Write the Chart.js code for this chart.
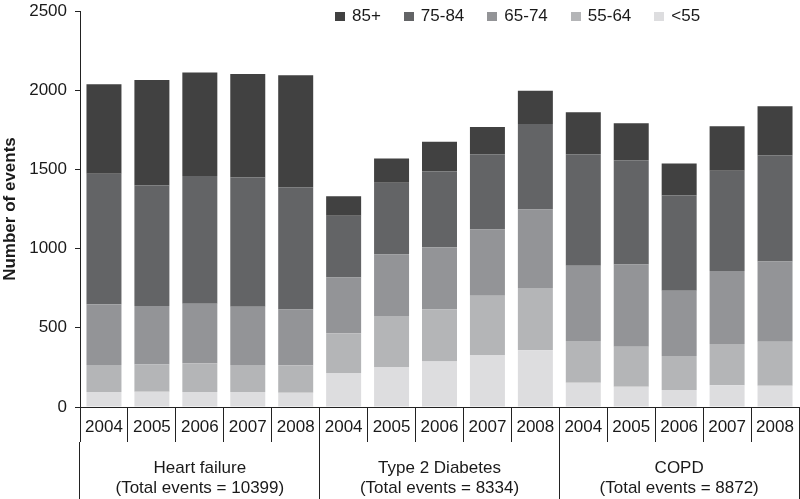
<!DOCTYPE html>
<html>
<head>
<meta charset="utf-8">
<script src="https://cdn.jsdelivr.net/npm/chart.js@4.4.0/dist/chart.umd.min.js"></script>
<style>
  body { margin: 0; background: #fff; }
  #wrap { position: relative; width: 800px; height: 499px; }
  #legend { position: absolute; left: 335px; top: 6px; display: flex; align-items: center;
            font: 17px "Liberation Sans", Arial, sans-serif; color: #1a1a1a; }
  #legend .item { display: flex; align-items: center; margin-right: 23px; }
  #legend .box { width: 10px; height: 9px; margin-right: 7px; }
</style>
</head>
<body>
<div id="wrap">
  <canvas id="bar-chart" width="800" height="499"></canvas>
  <div id="legend"></div>
</div>
<script>
// categories
const years = ['2004', '2005', '2006', '2007', '2008'];
const groups = [
  ['Heart failure', '(Total events = 10399)'],
  ['Type 2 Diabetes', '(Total events = 8334)'],
  ['COPD', '(Total events = 8872)']
];
const yearLabels = [].concat(years, years, years);

// series (heart failure x5, diabetes x5, copd x5)
const ageUnder55 = [95, 97, 95, 95, 90, 215, 252, 288, 328, 358, 153, 128, 107, 137, 134];
const age55to64  = [170, 172, 181, 170, 173, 250, 322, 328, 374, 393, 263, 252, 215, 261, 278];
const age65to74  = [383, 368, 376, 368, 353, 353, 389, 392, 419, 496, 476, 520, 412, 460, 507];
const age75to84  = [824, 762, 806, 816, 772, 389, 452, 479, 475, 539, 704, 657, 602, 633, 671];
const age85plus  = [566, 666, 654, 654, 707, 124, 154, 187, 171, 210, 265, 235, 202, 282, 309];

Chart.defaults.font.family = '"Liberation Sans", Arial, sans-serif';
Chart.defaults.color = '#1a1a1a';

const chart = new Chart(document.getElementById('bar-chart'), {
  type: 'bar',
  data: {
    labels: yearLabels,
    datasets: [
      { label: '<55',   data: ageUnder55, backgroundColor: '#dddddf' },
      { label: '55-64', data: age55to64,  backgroundColor: '#b4b5b7' },
      { label: '65-74', data: age65to74,  backgroundColor: '#939497' },
      { label: '75-84', data: age75to84,  backgroundColor: '#636466' },
      { label: '85+',   data: age85plus,  backgroundColor: '#414141' }
    ]
  },
  options: {
    responsive: false,
    animation: false,
    datasets: { bar: { categoryPercentage: 1, barPercentage: 0.73, borderWidth: 0 } },
    layout: { padding: { top: 0, right: 1 } },
    plugins: { legend: { display: false }, tooltip: { enabled: false } },
    scales: {
      x: {
        stacked: true, weight: 1, offset: true,
        grid: { offset: true, drawOnChartArea: false, tickLength: 35, color: '#222' },
        border: { color: '#222' },
        ticks: { autoSkip: false, maxRotation: 0, padding: -25, font: { size: 17 }, color: '#1a1a1a' },
        afterFit(s) { s.height = 35; }
      },
      g: {
        type: 'category', position: 'bottom', weight: 2, labels: groups, offset: true,
        grid: { offset: true, drawOnChartArea: false, tickLength: 57, color: '#222' },
        border: { display: false },
        ticks: { autoSkip: false, maxRotation: 0, padding: -41, font: { size: 17, lineHeight: 1.2 }, color: '#1a1a1a' },
        afterFit(s) { s.height = 57; }
      },
      y: {
        stacked: true, min: 0, max: 2500,
        ticks: { stepSize: 500, font: { size: 17 }, color: '#1a1a1a', padding: 8,
                 callback: v => String(v) },
        grid: { drawOnChartArea: false, tickLength: 5, color: '#222' },
        border: { color: '#222' },
        title: { display: true, text: 'Number of events', font: { size: 17, weight: 'bold' }, color: '#1a1a1a', padding: 0 },
        afterFit(s) { s.width = 80; s.paddingTop = 11; s.paddingBottom = 0; }
      }
    }
  }
});

// legend (top to bottom of the stack)
const legendEl = document.getElementById('legend');
chart.data.datasets.slice().reverse().forEach(ds => {
  const item = document.createElement('div');
  item.className = 'item';
  const box = document.createElement('span');
  box.className = 'box';
  box.style.background = ds.backgroundColor;
  const txt = document.createElement('span');
  txt.textContent = ds.label;
  item.appendChild(box);
  item.appendChild(txt);
  legendEl.appendChild(item);
});
</script>
</body>
</html>
